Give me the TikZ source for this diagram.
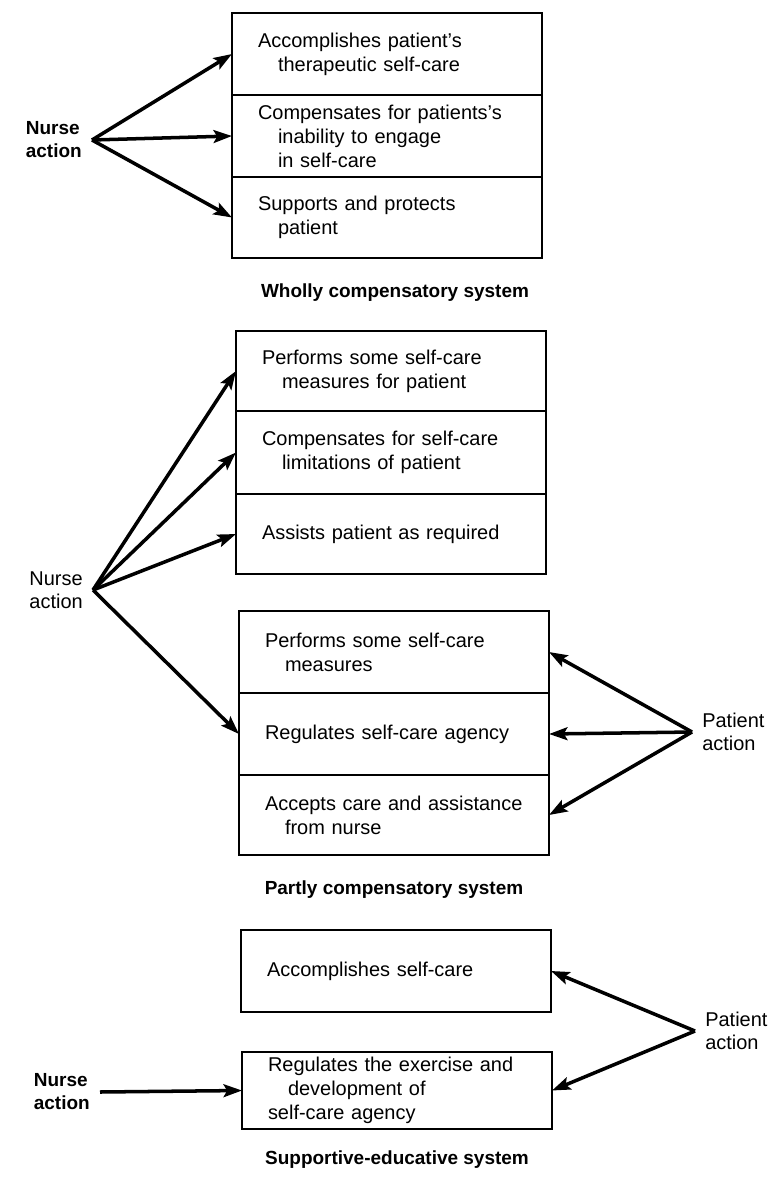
\documentclass[tikz,border=0pt]{standalone}
\usepackage{fontspec}
\setmainfont{Liberation Sans}
\usetikzlibrary{positioning}
\usetikzlibrary{arrows.meta}
\newcommand{\stepin}{\hspace*{5mm}}

\begin{document}
\begin{tikzpicture}[x=0.25mm, y=-0.25mm,
    cell/.style={draw, line width=1.6pt, minimum width=77.5mm,
        minimum height=20.5mm, text width=64.5mm, inner xsep=6.5mm,
        align=left, outer sep=0pt, font=\fontsize{14.2}{17}\selectfont},
    actor/.style={align=left, inner xsep=2.5mm,
        font=\fontsize{14.2}{16.3}\selectfont},
    bold actor/.style={actor, font=\bfseries\fontsize{13.5}{16.3}\selectfont},
    caption/.style={font=\bfseries\fontsize{13.5}{16}\selectfont},
    link/.style={-{Stealth[length=4.6mm, width=3.2mm, inset=0.9mm]},
        line width=2.5pt}]
\useasboundingbox (0,0) rectangle (774,1183);

% Wholly compensatory system
\node[cell, anchor=north west] at (232,13) (w1)
    {Accomplishes patient's\\\stepin therapeutic self-care};
\node[cell, below=0pt of w1] (w2)
    {Compensates for patients's\\\stepin inability to engage\\\stepin in self-care};
\node[cell, below=0pt of w2, minimum height=20.25mm] (w3)
    {Supports and protects\\\stepin patient};
\node[bold actor, anchor=east] at (92,140) (nurse w) {Nurse\\action};
\foreach \c in {w1,w2,w3}
    \draw[link] (nurse w.east) -- (\c.west);
\node[caption] at (395,293) (wholly) {Wholly compensatory system};


% Partly compensatory system
\node[cell, anchor=north west, minimum height=20mm] at (236,331) (p1)
    {Performs some self-care\\\stepin measures for patient};
\node[cell, below=0pt of p1, minimum height=20.75mm] (p2)
    {Compensates for self-care\\\stepin limitations of patient};
\node[cell, below=0pt of p2, minimum height=20mm] (p3)
    {Assists patient as required};

\node[cell, anchor=north west] at (239,611) (p4)
    {Performs some self-care\\\stepin measures};
\node[cell, below=0pt of p4] (p5) {Regulates self-care agency};
\node[cell, below=0pt of p5, minimum height=20mm] (p6)
    {Accepts care and assistance\\\stepin from nurse};

\node[actor, anchor=east] at (93,590) (nurse p) {Nurse\\action};
\foreach \c in {p1,p2,p3,p5}
    \draw[link] (nurse p.east) -- (\c.west);
\node[actor, anchor=west] at (692,732) (patient p) {Patient\\action};
\foreach \c in {p4,p5,p6}
    \draw[link] (patient p.west) -- (\c.east);
\node[caption] at (394,890) (partly) {Partly compensatory system};


% Supportive-educative system
\node[cell, anchor=north west] at (241,930) (s1) {Accomplishes self-care};
\node[cell, anchor=north west, minimum height=19.25mm] at (242,1052) (s2)
    {Regulates the exercise and\\\stepin development of\\self-care agency};

\node[bold actor, anchor=east] at (100,1092) (nurse s) {Nurse\\action};
\draw[link] (nurse s.east) -- (s2.west);
\node[actor, anchor=west] at (695,1031) (patient s) {Patient\\action};
\foreach \c in {s1,s2}
    \draw[link] (patient s.west) -- (\c.east);
\node[caption] at (397,1160) (supportive) {Supportive-educative system};
\end{tikzpicture}
\end{document}
